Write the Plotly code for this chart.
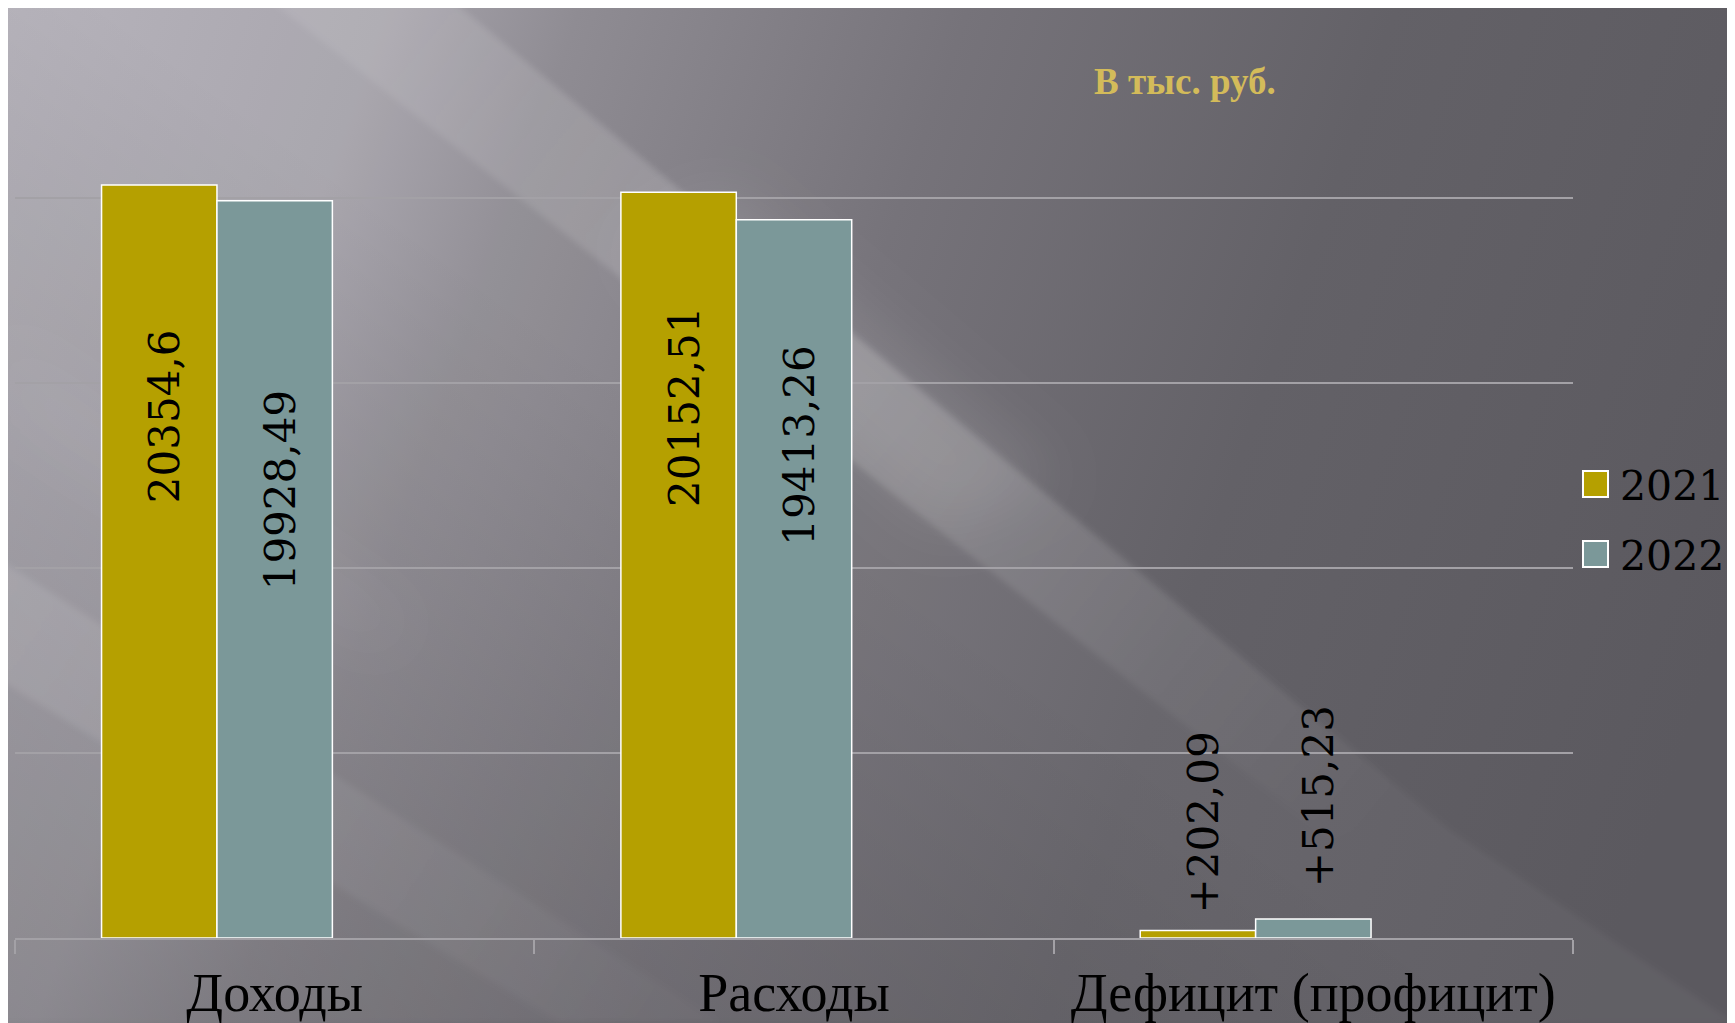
import base64
import plotly.graph_objects as go

# ---------------- data ----------------
categories = ["Доходы", "Расходы", "Дефицит (профицит)"]
series_names = ["2021", "2022"]
values_2021 = [20354.6, 20152.51, 202.09]
values_2022 = [19928.49, 19413.26, 515.23]
labels_2021 = ["20354,6", "20152,51", "+202,09"]
labels_2022 = ["19928,49", "19413,26", "+515,23"]
unit_text = "В тыс. руб."
y_max = 25000
y_step = 5000

# ---------------- style ----------------
W, H = 1735, 1023
PAGE_OFF = 8                     # default page margin in front of the figure
# plot area in screen pixels
PX_L, PX_R, PX_T, PX_B = 15, 1573, 13, 938
M_L, M_T = PX_L - PAGE_OFF, PX_T - PAGE_OFF
M_R, M_B = W - (PX_R - PAGE_OFF), H - (PX_B - PAGE_OFF)
PLOT_W = PX_R - PX_L
PLOT_H = PX_B - PX_T
BAR_W = 2 / 9            # bar width in category units (3 slots, gap width 150%)
BAR_OFFSETS = [-1 / 3, -1 / 9]
colors = ["#b5a000", "#7b9899"]
grid_color = "#a3a1a6"
label_font = dict(family="DejaVu Serif", size=42, color="black")
# pixel shift of each value label from its bar top (negative = inside bar)
label_shift_2021 = [-142, -113, 15]
label_shift_2022 = [-188, -124, 30]

cat_px = PLOT_W / len(categories)


def px_to_paper_x(px):
    return (px - PX_L) / PLOT_W


def px_to_paper_y(py):
    return (PX_B - py) / PLOT_H


# ---------------- background (svg, screen pixels) ----------------
svg = f"""<svg xmlns='http://www.w3.org/2000/svg' width='{W}' height='{H}' viewBox='0 0 {W} {H}'>
<defs>
<linearGradient id='base' x1='0' y1='0' x2='1735' y2='600' gradientUnits='userSpaceOnUse'>
<stop offset='0' stop-color='#b4b1b9'/>
<stop offset='0.2' stop-color='#a6a3ab'/>
<stop offset='0.3' stop-color='#8f8c93'/>
<stop offset='0.5' stop-color='#76737a'/>
<stop offset='0.72' stop-color='#636167'/>
<stop offset='1' stop-color='#5b595f'/>
</linearGradient>
<linearGradient id='vdark' x1='0' y1='1023' x2='520' y2='300' gradientUnits='userSpaceOnUse'>
<stop offset='0' stop-color='#000000' stop-opacity='0.2'/>
<stop offset='1' stop-color='#000000' stop-opacity='0'/>
</linearGradient>
<linearGradient id='band1' x1='450' y1='0' x2='1400' y2='790' gradientUnits='userSpaceOnUse'>
<stop offset='0' stop-color='#ffffff' stop-opacity='0.08'/>
<stop offset='0.45' stop-color='#ffffff' stop-opacity='0.16'/>
<stop offset='1' stop-color='#ffffff' stop-opacity='0'/>
</linearGradient>
<linearGradient id='band2' x1='0' y1='560' x2='700' y2='1023' gradientUnits='userSpaceOnUse'>
<stop offset='0' stop-color='#ffffff' stop-opacity='0.10'/>
<stop offset='1' stop-color='#ffffff' stop-opacity='0.02'/>
</linearGradient>
<filter id='b1' x='-20%' y='-20%' width='140%' height='140%'><feGaussianBlur stdDeviation='30'/></filter>
<filter id='b2' x='-20%' y='-20%' width='140%' height='140%'><feGaussianBlur stdDeviation='3'/></filter>
</defs>
<rect x='0' y='0' width='{W}' height='{H}' fill='url(#base)'/>
<rect x='0' y='0' width='{W}' height='{H}' fill='url(#vdark)'/>
<polygon points='0,0 450,0 1450,830 1735,1023 0,1023' fill='#ffffff' fill-opacity='0.04' filter='url(#b2)'/>
<polygon points='452,0 1420,805 1330,840 270,0' fill='url(#band1)' filter='url(#b2)'/>
<polygon points='720,190 1060,480 940,530 620,250' fill='#ffffff' fill-opacity='0.10' filter='url(#b1)'/>
<polygon points='0,560 720,1023 560,1023 0,680' fill='url(#band2)' filter='url(#b2)'/>
<polygon points='0,330 420,620 380,660 0,420' fill='#ffffff' fill-opacity='0.04' filter='url(#b1)'/>
</svg>"""
bg_src = "data:image/svg+xml;base64," + base64.b64encode(svg.encode("utf-8")).decode("ascii")

# ---------------- figure ----------------
fig = go.Figure()
for name, vals, col, off in zip(series_names, [values_2021, values_2022], colors, BAR_OFFSETS):
    fig.add_trace(go.Bar(
        name=name, x=categories, y=vals,
        width=BAR_W, offset=off,
        marker=dict(color=col, line=dict(color="white", width=1.5)),
        showlegend=False,
    ))

annotations = []
for off, vals, labs, shifts in [(BAR_OFFSETS[0], values_2021, labels_2021, label_shift_2021),
                                (BAR_OFFSETS[1], values_2022, labels_2022, label_shift_2022)]:
    center_px = (off + BAR_W / 2) * cat_px
    for c, v, t, s in zip(categories, vals, labs, shifts):
        annotations.append(dict(
            x=c, y=v, xref="x", yref="y", text=t, showarrow=False,
            textangle=-90, font=label_font,
            xshift=center_px + 6, yshift=s,
            yanchor="top" if s < 0 else "bottom", xanchor="center",
        ))

# unit caption
annotations.append(dict(
    x=px_to_paper_x(1185), y=px_to_paper_y(81), xref="paper", yref="paper",
    text="<b>" + unit_text + "</b>", showarrow=False,
    font=dict(family="Liberation Serif", size=37, color="#d3bb5a"),
    xanchor="center", yanchor="middle",
))

# custom legend
shapes = []
legend_rows = [484, 554]
for name, col, cy in zip(series_names, colors, legend_rows):
    shapes.append(dict(
        type="rect", xref="paper", yref="paper",
        x0=px_to_paper_x(1583), x1=px_to_paper_x(1608),
        y0=px_to_paper_y(cy + 13), y1=px_to_paper_y(cy - 13),
        fillcolor=col, line=dict(color="white", width=2), layer="above",
    ))
    annotations.append(dict(
        x=px_to_paper_x(1618), y=px_to_paper_y(cy + 2), xref="paper", yref="paper",
        text=name, showarrow=False, xanchor="left", yanchor="middle",
        font=dict(family="DejaVu Serif", size=41, color="black"),
    ))

fig.update_layout(
    width=W, height=H,
    margin=dict(l=M_L, r=M_R, t=M_T, b=M_B, pad=0),
    barmode="overlay",
    paper_bgcolor="#6a686e", plot_bgcolor="rgba(0,0,0,0)",
    showlegend=False,
    annotations=annotations,
    shapes=shapes,
    images=[dict(
        source=bg_src, xref="paper", yref="paper",
        x=-PX_L / PLOT_W, y=1 + PX_T / PLOT_H,
        sizex=W / PLOT_W, sizey=H / PLOT_H,
        xanchor="left", yanchor="top", sizing="stretch", layer="below",
    )],
    xaxis=dict(
        showline=True, linecolor=grid_color, linewidth=2,
        ticks="outside", tickson="boundaries", ticklen=14, tickwidth=2,
        tickcolor=grid_color, showgrid=False, ticklabelstandoff=6,
        tickfont=dict(family="Liberation Serif", size=54, color="black"),
    ),
    yaxis=dict(
        range=[0, y_max], dtick=y_step, showgrid=True, gridcolor=grid_color,
        gridwidth=2, zeroline=False, showticklabels=False, showline=False,
    ),
)

fig.write_html("out.html")
